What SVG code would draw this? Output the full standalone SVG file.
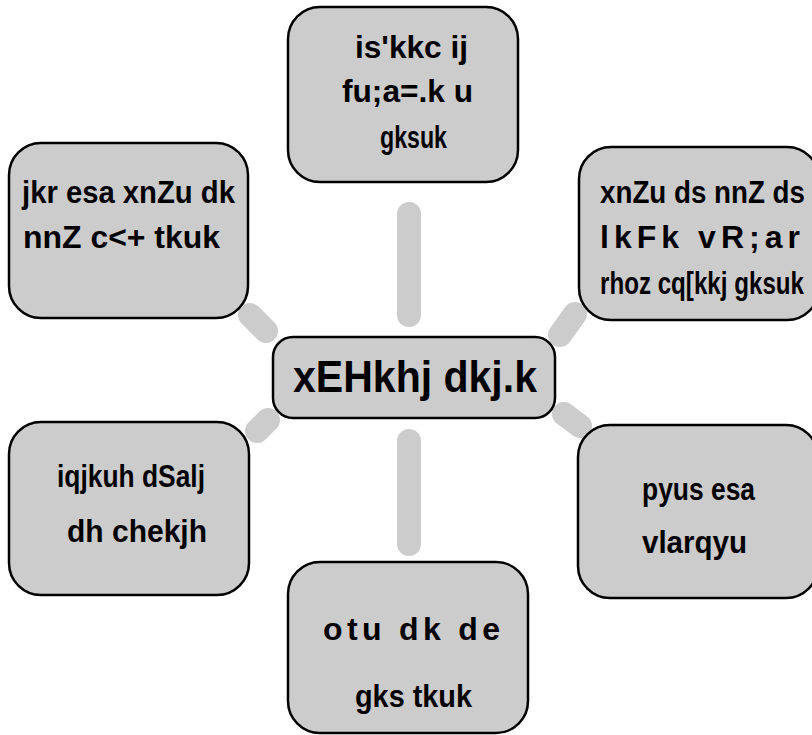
<svg xmlns="http://www.w3.org/2000/svg" width="812" height="735" viewBox="0 0 812 735">
<style>
.box{fill:#cccccc;stroke:#000;stroke-width:2.5}
.t{font-family:"Liberation Sans",Arial,sans-serif;font-weight:bold;font-size:32px;fill:#000}
.tc{font-family:"Liberation Sans",Arial,sans-serif;font-weight:bold;font-size:44px;fill:#000}
.c{stroke:#cccccc;stroke-width:24;stroke-linecap:round;fill:none}
</style>
<rect width="812" height="735" fill="#fff"/>
<g id="connectors">
<line class="c" x1="409" y1="214" x2="409" y2="315"/>
<line class="c" x1="409" y1="441" x2="409" y2="544"/>
<line class="c" x1="250" y1="315" x2="266" y2="331"/>
<line class="c" x1="560" y1="335" x2="575" y2="314"/>
<line class="c" x1="257" y1="431" x2="268" y2="420"/>
<line class="c" x1="564" y1="414" x2="580" y2="426"/>
</g>
<g id="center">
<rect class="box" x="273" y="337" width="282" height="81" rx="20"/>
<text class="tc" x="293" y="392" textLength="244" lengthAdjust="spacingAndGlyphs">xEHkhj dkj.k</text>
</g>
<g id="top">
<rect class="box" x="288" y="7" width="230" height="175" rx="32"/>
<text class="t" x="355" y="58" textLength="113" lengthAdjust="spacingAndGlyphs">is'kkc ij</text>
<text class="t" x="342" y="102" textLength="131" lengthAdjust="spacingAndGlyphs">fu;a=.k u</text>
<text class="t" x="380" y="148" textLength="67" lengthAdjust="spacingAndGlyphs">gksuk</text>
</g>
<g id="top-left">
<rect class="box" x="9" y="143" width="239" height="175" rx="32"/>
<text class="t" x="22" y="203" textLength="213" lengthAdjust="spacingAndGlyphs">jkr esa xnZu dk</text>
<text class="t" x="23" y="248" textLength="197" lengthAdjust="spacingAndGlyphs">nnZ c&lt;+ tkuk</text>
</g>
<g id="top-right">
<rect class="box" x="579" y="147" width="240" height="173" rx="32"/>
<text class="t" x="600" y="203" textLength="205" lengthAdjust="spacingAndGlyphs">xnZu ds nnZ ds</text>
<text class="t" x="600" y="248" textLength="200" lengthAdjust="spacing">lkFk vR;ar</text>
<text class="t" x="600" y="294" textLength="204" lengthAdjust="spacingAndGlyphs">rhoz cq[kkj gksuk</text>
</g>
<g id="bottom-left">
<rect class="box" x="9" y="422" width="240" height="173" rx="32"/>
<text class="t" x="57" y="487" textLength="148" lengthAdjust="spacingAndGlyphs">iqjkuh dSalj</text>
<text class="t" x="67" y="542" textLength="140" lengthAdjust="spacingAndGlyphs">dh chekjh</text>
</g>
<g id="right">
<rect class="box" x="578" y="425" width="240" height="173" rx="32"/>
<text class="t" x="642" y="500" textLength="113" lengthAdjust="spacingAndGlyphs">pyus esa</text>
<text class="t" x="642" y="553" textLength="105" lengthAdjust="spacingAndGlyphs">vlarqyu</text>
</g>
<g id="bottom">
<rect class="box" x="288" y="562" width="240" height="171" rx="32"/>
<text class="t" x="323" y="640" textLength="177" lengthAdjust="spacing">otu dk de</text>
<text class="t" x="355" y="707" textLength="117" lengthAdjust="spacingAndGlyphs">gks tkuk</text>
</g>
</svg>
